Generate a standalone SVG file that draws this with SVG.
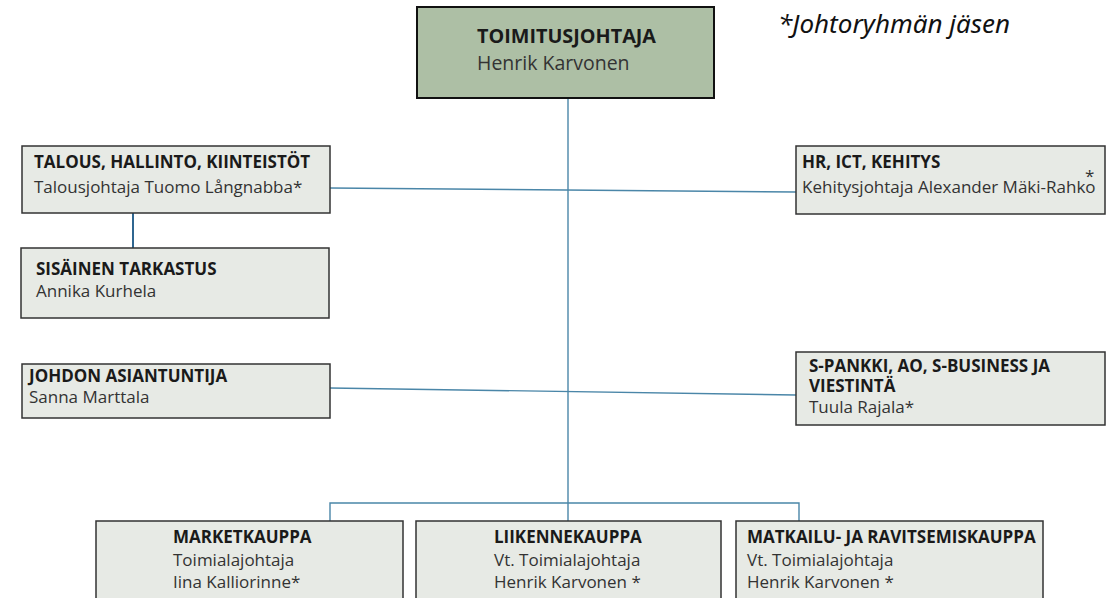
<svg xmlns="http://www.w3.org/2000/svg" width="1117" height="598" viewBox="0 0 1117 598">
<style>
.box{fill:#e7eae5;stroke:#333;stroke-width:1.5}
.top{fill:#adbfa5;stroke:#111;stroke-width:2}
.t{font-family:"Open Sans","Liberation Sans",sans-serif;font-weight:bold;font-size:17px;fill:#1a1a1a}
.n{font-family:"Open Sans","Liberation Sans",sans-serif;font-size:17px;fill:#333}
.c{fill:none;stroke:#4a86a8;stroke-width:1.4}
.legend{font-family:"Noto Sans","Liberation Sans",sans-serif;font-style:italic;font-size:26px;fill:#111}
</style>
<rect width="1117" height="598" fill="#fff"/>
<g id="connectors">
<line class="c" x1="568" y1="98" x2="568" y2="521"/>
<line class="c" x1="330" y1="188" x2="796" y2="192"/>
<line class="c" x1="330" y1="388" x2="796" y2="395"/>
<line class="c" x1="133" y1="213" x2="133" y2="248" style="stroke:#2f6690;stroke-width:2"/>
<polyline class="c" points="330,521 330,503 799,503 799,521"/>
</g>
<g id="toimitusjohtaja">
<rect class="top" x="417" y="7" width="297" height="91"/>
<text class="t" x="477" y="43" style="font-size:19.8px">TOIMITUSJOHTAJA</text>
<text class="n" x="477" y="70" style="font-size:19.5px">Henrik Karvonen</text>
</g>
<g id="legend">
<text class="legend" x="778" y="33">*Johtoryhmän jäsen</text>
</g>
<g id="talous">
<rect class="box" x="22" y="146" width="308" height="67"/>
<text class="t" x="34" y="168">TALOUS, HALLINTO, KIINTEISTÖT</text>
<text class="n" x="34" y="193">Talousjohtaja Tuomo Långnabba*</text>
</g>
<g id="hr">
<rect class="box" x="796" y="146" width="309" height="68"/>
<text class="t" x="802" y="168">HR, ICT, KEHITYS</text>
<text class="n" x="802" y="193">Kehitysjohtaja Alexander Mäki-Rahko</text>
<text class="n" x="1085" y="182">*</text>
</g>
<g id="sisainen">
<rect class="box" x="21" y="248" width="308" height="70"/>
<text class="t" x="36" y="275">SISÄINEN TARKASTUS</text>
<text class="n" x="36" y="297">Annika Kurhela</text>
</g>
<g id="johdon">
<rect class="box" x="22" y="364" width="308" height="54"/>
<text class="t" x="29" y="382">JOHDON ASIANTUNTIJA</text>
<text class="n" x="29" y="403">Sanna Marttala</text>
</g>
<g id="spankki">
<rect class="box" x="796" y="352" width="309" height="73"/>
<text class="t" x="809" y="372">S-PANKKI, AO, S-BUSINESS JA</text>
<text class="t" x="809" y="392">VIESTINTÄ</text>
<text class="n" x="809" y="413">Tuula Rajala*</text>
</g>
<g id="market">
<rect class="box" x="96" y="521" width="307" height="82"/>
<text class="t" x="173" y="543">MARKETKAUPPA</text>
<text class="n" x="173" y="566">Toimialajohtaja</text>
<text class="n" x="173" y="588">Iina Kalliorinne*</text>
</g>
<g id="liikenne">
<rect class="box" x="416" y="521" width="305" height="82"/>
<text class="t" x="494" y="543">LIIKENNEKAUPPA</text>
<text class="n" x="494" y="566">Vt. Toimialajohtaja</text>
<text class="n" x="494" y="588">Henrik Karvonen *</text>
</g>
<g id="matkailu">
<rect class="box" x="736" y="521" width="307" height="82"/>
<text class="t" x="747" y="543">MATKAILU- JA RAVITSEMISKAUPPA</text>
<text class="n" x="747" y="566">Vt. Toimialajohtaja</text>
<text class="n" x="747" y="588">Henrik Karvonen *</text>
</g>
</svg>
